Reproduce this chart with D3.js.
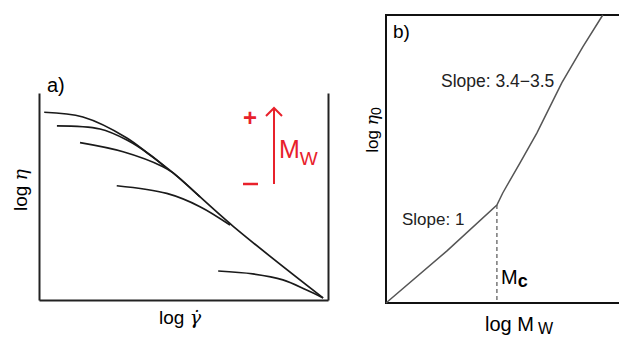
<!DOCTYPE html>
<html lang="en">
<head>
  <meta charset="UTF-8">
  <title>Shear thinning and zero-shear viscosity vs Mw</title>
  <script src="https://d3js.org/d3.v7.min.js"></script>
  <style>
    body { margin: 0; background: #fff; }
    text { font-family: "Liberation Sans", Arial, sans-serif; }
  </style>
</head>
<body>
  <svg id="chart" width="619" height="340"></svg>

  <script>
    // panel a) flow curves, log eta vs log shear rate (arbitrary units 0-10)
    const curve1 = [[0.18, 9.07], [1.52, 8.84], [3.04, 7.83], [3.84, 7.0], [4.64, 6.14], [6.71, 3.57], [9.83, 0.1]];
    const curve2 = [[0.62, 8.41], [2.11, 8.26], [3.04, 7.73], [3.84, 7.02], [4.36, 6.43]];
    const curve3 = [[1.42, 7.6], [2.91, 7.16], [4.29, 6.44], [4.64, 6.14], [5.57, 4.98]];
    const curve4 = [[2.69, 5.52], [4.42, 5.15], [5.57, 4.51], [6.61, 3.62]];
    const curve5 = [[6.2, 1.4], [7.4, 1.26], [8.44, 0.97], [9.26, 0.48], [9.83, 0.1]];
    const flowCurves = [curve1, curve2, curve3, curve4, curve5];

    // panel b) log eta0 vs log Mw
    const etaZero = [[0, 0], [2.81, 1.81], [5.11, 3.4], [5.38, 3.82], [6.17, 4.86], [6.95, 5.9], [8.1, 7.64], [9.07, 8.89], [9.99, 10]];
    const mcX = 5.11, mcY = 3.4;

    const svg = d3.select('#chart');

    // ---------- panel a ----------
    const xa = d3.scaleLinear([0, 10], [39, 328]);
    const ya = d3.scaleLinear([0, 10], [300, 93]);

    const ga = svg.append('g');

    ga.append('g').attr('transform', `translate(0,${ya(0)})`)
      .call(d3.axisBottom(xa).ticks(0).tickSizeOuter(0));
    ga.append('g').attr('transform', `translate(${xa(0)},0)`)
      .call(d3.axisLeft(ya).ticks(0).tickSizeOuter(0));
    ga.append('g').attr('transform', `translate(${xa(10)},0)`)
      .call(d3.axisRight(ya).ticks(0).tickSizeOuter(0));
    ga.selectAll('.domain').attr('stroke', '#222').attr('stroke-width', 2);

    const lineA = d3.line().x(d => xa(d[0])).y(d => ya(d[1])).curve(d3.curveCatmullRom);
    ga.selectAll('path.flow')
      .data(flowCurves)
      .enter().append('path')
      .attr('class', 'flow')
      .attr('d', lineA)
      .attr('fill', 'none')
      .attr('stroke', '#1a1a1a')
      .attr('stroke-width', 1.7);

    ga.append('text').attr('x', 47).attr('y', 92).attr('font-size', 20).text('a)');
    ga.append('text')
      .attr('transform', 'translate(27,190) rotate(-90)')
      .attr('text-anchor', 'middle').attr('font-size', 19)
      .html('log <tspan font-style="italic" font-family="DejaVu Serif">η</tspan>');
    ga.append('text').attr('x', 180).attr('y', 324)
      .attr('text-anchor', 'middle').attr('font-size', 19)
      .html('log <tspan font-style="italic" font-family="DejaVu Serif">γ̇</tspan>');

    // red Mw arrow
    const red = '#e8212b';
    ga.append('line').attr('x1', 274).attr('x2', 274).attr('y1', 184).attr('y2', 109)
      .attr('stroke', red).attr('stroke-width', 2);
    ga.append('path').attr('d', 'M266,116 L274,108 L282,116')
      .attr('fill', 'none').attr('stroke', red).attr('stroke-width', 2);
    ga.append('text').attr('x', 250).attr('y', 126).attr('text-anchor', 'middle')
      .attr('font-size', 24).attr('font-weight', 'bold').attr('fill', red).text('+');
    ga.append('line').attr('x1', 243).attr('x2', 258).attr('y1', 184).attr('y2', 184)
      .attr('stroke', red).attr('stroke-width', 2.5);
    ga.append('text').attr('x', 279).attr('y', 158).attr('font-size', 25).attr('fill', red)
      .html('M<tspan dy="7" font-size="19">W</tspan>');

    // ---------- panel b ----------
    const xb = d3.scaleLinear([0, 10], [386, 603]);
    const yb = d3.scaleLinear([0, 10], [303, 15]);

    const gb = svg.append('g');

    gb.append('rect')
      .attr('x', xb(0)).attr('y', yb(10))
      .attr('width', 260).attr('height', yb(0) - yb(10))
      .attr('fill', 'none').attr('stroke', '#111').attr('stroke-width', 2);

    gb.append('line')
      .attr('x1', xb(mcX)).attr('x2', xb(mcX))
      .attr('y1', yb(mcY)).attr('y2', yb(0))
      .attr('stroke', '#777').attr('stroke-width', 1.5).attr('stroke-dasharray', '4,3');

    const lineB = d3.line().x(d => xb(d[0])).y(d => yb(d[1])).curve(d3.curveLinear);
    gb.append('path').datum(etaZero)
      .attr('d', lineB)
      .attr('fill', 'none').attr('stroke', '#555').attr('stroke-width', 1.5);

    gb.append('text').attr('x', 393).attr('y', 38).attr('font-size', 19).text('b)');
    gb.append('text').attr('x', 441).attr('y', 87).attr('font-size', 17.5).attr('fill', '#222')
      .text('Slope: 3.4\u22123.5');
    gb.append('text').attr('x', 402).attr('y', 225).attr('font-size', 17).attr('fill', '#222')
      .text('Slope: 1');
    gb.append('text').attr('x', 501).attr('y', 284).attr('font-size', 20)
      .html('M<tspan dy="3" font-size="18" font-weight="bold">c</tspan>');
    gb.append('text')
      .attr('transform', 'translate(378,130) rotate(-90)')
      .attr('text-anchor', 'middle').attr('font-size', 17)
      .html('log <tspan font-style="italic" font-family="DejaVu Serif">η</tspan><tspan dy="3" font-size="14">0</tspan>');
    gb.append('text').attr('x', 485).attr('y', 331).attr('font-size', 20)
      .html('log M<tspan dx="4" dy="3" font-size="16">W</tspan>');
  </script>
</body>
</html>
